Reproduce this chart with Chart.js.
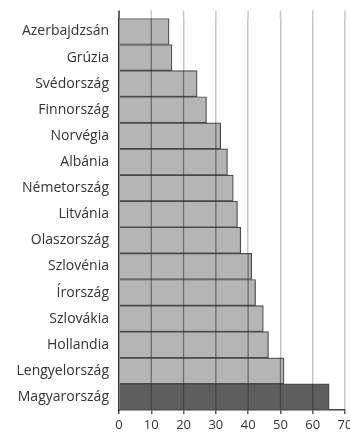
<!DOCTYPE html>
<html>
<head>
<meta charset="utf-8">
<script src="https://cdn.jsdelivr.net/npm/chart.js@4/dist/chart.umd.min.js"></script>
<style>
  html, body { margin: 0; padding: 0; background: #fff; }
  #wrap { width: 350px; height: 434px; }
</style>
</head>
<body>
<div id="wrap"><canvas id="chart"></canvas></div>
<script>
// Countries, top to bottom
const countries = ['Azerbajdzsán', 'Grúzia', 'Svédország', 'Finnország', 'Norvégia', 'Albánia',
    'Németország', 'Litvánia', 'Olaszország', 'Szlovénia', 'Írország', 'Szlovákia',
    'Hollandia', 'Lengyelország', 'Magyarország'];
const values = [15.5, 16.4, 24.2, 27.1, 31.5, 33.6, 35.4, 36.7, 37.7, 41.1, 42.3, 44.7, 46.3, 51.1, 65.1];
const highlighted = 'Magyarország';
const xTicks = [0, 10, 20, 30, 40, 50, 60, 70];

const FONT = '"Open Sans", "DejaVu Sans", sans-serif';

// grid lines look dark where they cross the bars, and run a bit above the first bar
const gridOverBars = {
    id: 'gridOverBars',
    beforeDatasetsDraw(chart) {
        const ctx = chart.ctx;
        const x = chart.scales.x;
        const top = chart.chartArea.top;
        ctx.save();
        xTicks.forEach(v => {
            const px = x.getPixelForValue(v);
            ctx.beginPath();
            ctx.strokeStyle = v === 0 ? '#333' : '#c6c6c6';
            ctx.lineWidth = 1.5;
            ctx.moveTo(px, top - 8);
            ctx.lineTo(px, top);
            ctx.stroke();
        });
        ctx.restore();
    },
    afterDatasetsDraw(chart) {
        const ctx = chart.ctx;
        const x = chart.scales.x;
        const bars = chart.getDatasetMeta(0).data;
        ctx.save();
        ctx.strokeStyle = 'rgba(50,50,50,0.55)';
        ctx.lineWidth = 1.3;
        bars.forEach((bar, i) => {
            const half = bar.height / 2;
            xTicks.forEach(v => {
                if (v <= 0 || v >= values[i]) return;
                const px = x.getPixelForValue(v);
                ctx.beginPath();
                ctx.moveTo(px, bar.y - half);
                ctx.lineTo(px, bar.y + half);
                ctx.stroke();
            });
        });
        ctx.restore();
    }
};

new Chart(document.getElementById('chart').getContext('2d'), {
    type: 'bar',
    data: {
        labels: countries,
        datasets: [{
            data: values,
            backgroundColor: countries.map(c => c === highlighted ? '#5e5e5e' : '#b5b5b5'),
            borderColor: '#4a4a4a',
            borderWidth: 1.2,
            barPercentage: 1,
            categoryPercentage: 1
        }]
    },
    options: {
        indexAxis: 'y',
        responsive: true,
        maintainAspectRatio: false,
        animation: false,
        layout: { padding: { top: 17, right: 5, left: 0, bottom: 0 } },
        plugins: { legend: { display: false }, tooltip: { enabled: false } },
        scales: {
            x: {
                min: 0,
                max: 70,
                ticks: { stepSize: 10, color: '#333', padding: 3, font: { family: FONT, size: 13 } },
                grid: { color: '#c6c6c6', lineWidth: 1.5, tickLength: 4, tickColor: '#555' },
                border: { display: true, color: '#444', width: 1.5 },
                afterFit(s) { s.height = 24; s.paddingRight = 5; }
            },
            y: {
                ticks: { color: '#333', padding: 10, font: { family: FONT, size: 14 } },
                grid: { color: 'transparent', drawTicks: false },
                border: { display: true, color: '#333', width: 1.5 },
                afterFit(s) { s.width = 119; }
            }
        }
    },
    plugins: [gridOverBars]
});
</script>
</body>
</html>
